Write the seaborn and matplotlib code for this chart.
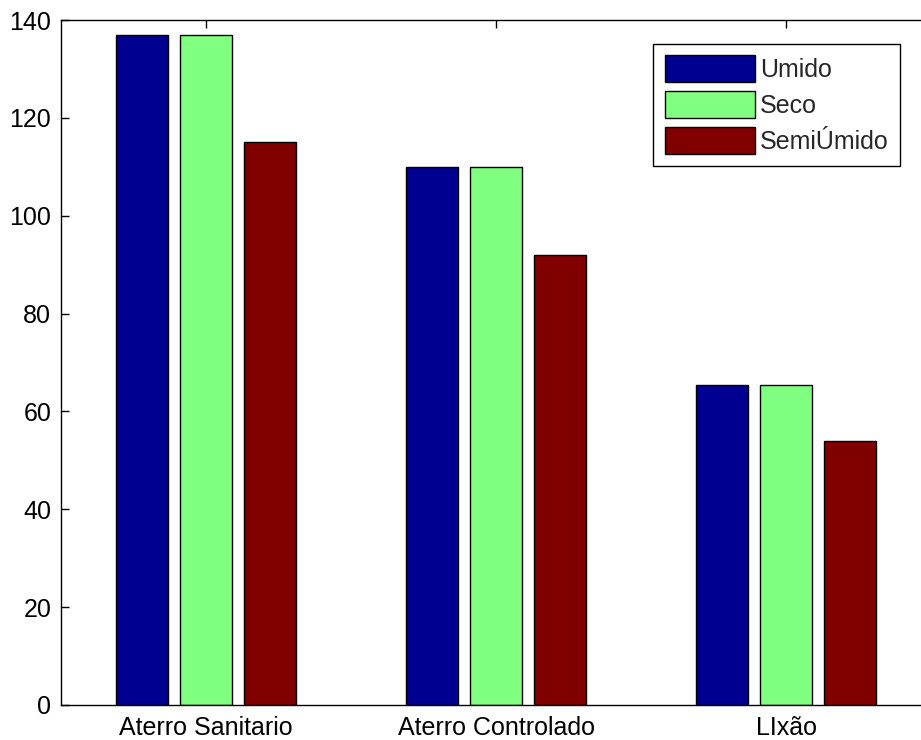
import pandas as pd
import seaborn as sns
import matplotlib.pyplot as plt

# dados
locais = ["Aterro Sanitario", "Aterro Controlado", "LIxão"]
umido = [137, 110, 65.5]
seco = [137, 110, 65.5]
semi_umido = [115, 92, 54]
series = ["Umido", "Seco", "SemiÚmido"]
cores = ["#000090", "#80ff80", "#800000"]

df = pd.DataFrame({
    "local": locais * 3,
    "serie": [series[0]] * 3 + [series[1]] * 3 + [series[2]] * 3,
    "valor": umido + seco + semi_umido,
})

sns.set_style("ticks")
plt.rcParams["font.family"] = ["Liberation Sans", "DejaVu Sans"]

fig = plt.figure(figsize=(9.21, 7.40), dpi=100)
# eixo se estende além da borda direita, como na imagem original recortada
ax = fig.add_axes([61 / 921, 35 / 740, 870 / 921, 685 / 740])

sns.barplot(data=df, x="local", y="valor", hue="serie", hue_order=series,
            palette=cores, saturation=1, width=0.66, gap=0.18,
            edgecolor="black", linewidth=1, ax=ax)

ax.set_xlim(-0.5, 2.5)
ax.set_ylim(0, 140)
ax.set_yticks(range(0, 141, 20))
ax.set_xlabel("")
ax.set_ylabel("")

for s in ax.spines.values():
    s.set_visible(True)
    s.set_linewidth(1)
    s.set_color("black")

ax.tick_params(direction="in", length=6, width=1, top=True, right=True,
               labelsize=18, colors="black")
ax.tick_params(axis="y", pad=7)
ax.tick_params(axis="x", pad=8)

handles, labels = ax.get_legend_handles_labels()
leg = ax.legend(handles, labels, loc="upper right", bbox_to_anchor=(0.964, 0.965),
                borderaxespad=0, fancybox=False, framealpha=1, edgecolor="black",
                fontsize=18, handlelength=3.6, handleheight=1.3,
                labelspacing=0.35, handletextpad=0.2, borderpad=0.45)
leg.get_frame().set_linewidth(1)

plt.savefig("out.png", dpi=100)
plt.close()
